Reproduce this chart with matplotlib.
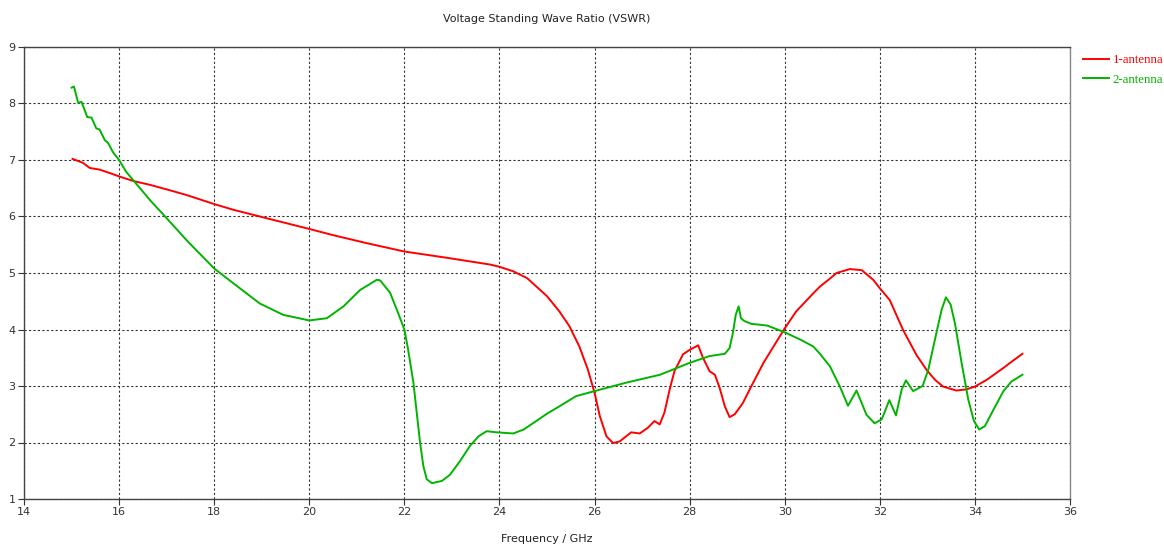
import matplotlib
matplotlib.use("Agg")
import matplotlib.pyplot as plt

# 1-antenna (red)
f1 = [15.02, 15.24, 15.38, 15.59, 15.80, 16.0, 16.29, 16.65, 17.0, 17.42, 18.0, 18.4, 19.1, 20.0,
      20.5, 21.2, 22.0, 22.89, 23.8, 24.0, 24.29, 24.58, 25.0, 25.26, 25.47, 25.68, 25.86, 26.0,
      26.11, 26.25, 26.39, 26.53, 26.77, 26.95, 27.12, 27.26, 27.37, 27.47, 27.58, 27.68, 27.86,
      28.0, 28.18, 28.28, 28.42, 28.53, 28.63, 28.74, 28.84, 28.95, 29.12, 29.30, 29.56, 30.0,
      30.24, 30.6, 30.74, 30.95, 31.09, 31.37, 31.62, 31.86, 32.0, 32.21, 32.49, 32.77, 32.98,
      33.16, 33.33, 33.61, 33.82, 34.0, 34.25, 34.60, 34.74, 35.0]
v1 = [7.02, 6.95, 6.86, 6.83, 6.77, 6.71, 6.63, 6.56, 6.48, 6.38, 6.22, 6.12, 5.97, 5.78,
      5.67, 5.53, 5.38, 5.27, 5.15, 5.11, 5.03, 4.91, 4.59, 4.32, 4.06, 3.70, 3.29, 2.88,
      2.47, 2.11, 1.99, 2.02, 2.18, 2.16, 2.26, 2.38, 2.32, 2.53, 2.94, 3.26, 3.56,
      3.64, 3.72, 3.50, 3.26, 3.20, 2.97, 2.64, 2.45, 2.50, 2.70, 3.00, 3.42, 4.02,
      4.32, 4.64, 4.76, 4.90, 5.00, 5.07, 5.05, 4.88, 4.73, 4.52, 3.99, 3.55, 3.29,
      3.11, 2.99, 2.92, 2.94, 2.99, 3.11, 3.32, 3.41, 3.57]

# 2-antenna (green)
f2 = [15.0, 15.05, 15.14, 15.21, 15.33, 15.42, 15.52, 15.59, 15.70, 15.77, 15.87, 16.0, 16.15,
      16.36, 16.65, 17.0, 17.42, 18.0, 18.4, 18.96, 19.45, 20.0, 20.37, 20.72, 21.07, 21.42,
      21.49, 21.70, 21.87, 22.0, 22.08, 22.19, 22.26, 22.33, 22.40, 22.47, 22.58, 22.79, 22.96,
      23.17, 23.38, 23.56, 23.73, 23.94, 24.29, 24.51, 25.0, 25.26, 25.61, 26.0, 26.67, 27.38,
      28.0, 28.42, 28.74, 28.84, 28.91, 28.97, 29.03, 29.08, 29.15, 29.30, 29.63, 30.0, 30.33,
      30.6, 30.74, 30.95, 31.16, 31.33, 31.51, 31.72, 31.89, 32.04, 32.20, 32.34, 32.46, 32.55,
      32.70, 32.90, 33.02, 33.19, 33.30, 33.39, 33.49, 33.58, 33.72, 33.86, 33.98, 34.09, 34.21,
      34.39, 34.60, 34.77, 35.0]
v2 = [8.28, 8.30, 8.01, 8.03, 7.76, 7.75, 7.56, 7.54, 7.35, 7.30, 7.14, 7.0, 6.79,
      6.58, 6.29, 5.97, 5.58, 5.08, 4.82, 4.46, 4.26, 4.16, 4.20, 4.41, 4.70, 4.88,
      4.87, 4.65, 4.29, 4.0, 3.64, 3.06, 2.53, 2.0, 1.58, 1.35, 1.28, 1.32, 1.43,
      1.67, 1.94, 2.11, 2.20, 2.18, 2.16, 2.23, 2.51, 2.64, 2.82, 2.91, 3.06, 3.20,
      3.41, 3.53, 3.57, 3.67, 3.94, 4.26, 4.41, 4.20, 4.15, 4.10, 4.07, 3.95, 3.82,
      3.70, 3.57, 3.35, 2.99, 2.65, 2.92, 2.49, 2.34, 2.41, 2.75, 2.48, 2.94, 3.10,
      2.91, 3.00, 3.29, 3.94, 4.35, 4.57, 4.44, 4.11, 3.41, 2.76, 2.38, 2.23, 2.29,
      2.58, 2.91, 3.08, 3.20]

xticks = [14, 16, 18, 20, 22, 24, 26, 28, 30, 32, 34, 36]
yticks = [1, 2, 3, 4, 5, 6, 7, 8, 9]

fig = plt.figure(figsize=(11.64, 5.44), dpi=100)
ax = fig.add_axes([24/1164, 45/544, (1070-24)/1164, (499-47)/544])

red = "#ff0000"
green = "#00b400"
ax.plot(f1, v1, color=red, lw=1.4, label="1-antenna")
ax.plot(f2, v2, color=green, lw=1.4, label="2-antenna")

ax.set_xlim(14, 36)
ax.set_ylim(1, 9)
ax.set_xticks(xticks)
ax.set_yticks(yticks)
ax.grid(True, color="#333333", linestyle=(0, (2, 2)), linewidth=0.8)
ax.tick_params(labelsize=8, length=4, width=0.8, color="#333333", labelcolor="#333333", pad=2)
for s in ["left", "bottom", "top"]:
    ax.spines[s].set_color("#444444")
    ax.spines[s].set_linewidth(1.0)
ax.spines["right"].set_color("#888888")
ax.spines["right"].set_linewidth(1.0)

ax.set_title("Voltage Standing Wave Ratio (VSWR)", fontsize=8, pad=18, color="#222222")
ax.set_xlabel("Frequency / GHz", fontsize=8, labelpad=12, color="#222222")

leg = fig.legend(loc="upper left", bbox_to_anchor=(1083/1164, 1 - 54/544), frameon=False,
                 prop={"family": "Liberation Serif", "size": 9.3}, handlelength=2.0,
                 handletextpad=0.3, labelspacing=0.6, borderaxespad=0.0, borderpad=0.0)
for t, c in zip(leg.get_texts(), [red, green]):
    t.set_color(c)

fig.savefig("out.png", dpi=100)
